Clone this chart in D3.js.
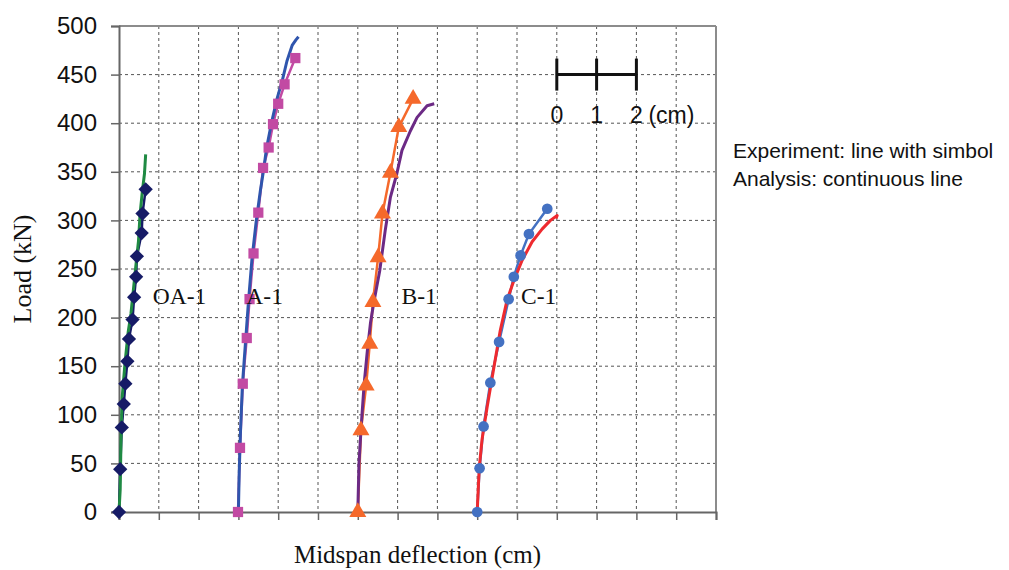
<!DOCTYPE html>
<html>
<head>
<meta charset="utf-8">
<script src="https://cdn.jsdelivr.net/npm/d3@7"></script>
<style>
  body { margin: 0; background: #fff; }
  svg { display: block; }
</style>
</head>
<body>
<svg id="chart" width="1009" height="570"></svg>
<script>
// load ticks (kN) and deflection grid (cm)
var loadTicks = [0, 50, 100, 150, 200, 250, 300, 350, 400, 450, 500];
var deflGrid = d3.range(0, 16);

// experiment series: [deflection cm, load kN]
var expOA1 = [[0,0],[0.03,44],[0.07,87],[0.12,111],[0.16,132],[0.21,155],[0.25,178],[0.34,198],[0.38,221],[0.43,242],[0.45,263],[0.57,287],[0.59,307],[0.67,332]];
var expA1 = [[2.99,0],[3.04,66],[3.11,132],[3.21,179],[3.28,219],[3.38,266],[3.5,308],[3.62,354],[3.76,375],[3.87,399],[4.0,420],[4.16,440],[4.43,467]];
var expB1 = [[6.0,0],[6.08,84],[6.21,130],[6.3,173],[6.38,216],[6.51,262],[6.62,307],[6.82,349],[7.03,396],[7.39,425]];
var expC1 = [[9.0,0],[9.06,45],[9.16,88],[9.33,133],[9.55,175],[9.79,219],[9.92,242],[10.09,264],[10.3,286],[10.76,312]];

// analysis series
var anaOA1 = [[0,0],[0.03,23],[0.05,74],[0.08,118],[0.15,153],[0.23,185],[0.3,204],[0.36,228],[0.42,252],[0.49,279],[0.53,307],[0.59,331],[0.64,348],[0.67,368]];
var anaA1 = [[3.0,0],[3.02,40],[3.05,80],[3.1,130],[3.17,170],[3.25,215],[3.34,260],[3.45,300],[3.55,330],[3.63,351],[3.71,375],[3.84,402],[3.97,425],[4.11,445],[4.22,464],[4.35,480],[4.45,486],[4.51,489]];
var anaB1 = [[6.0,0],[6.03,50],[6.09,91],[6.16,132],[6.24,166],[6.32,195],[6.4,215],[6.55,248],[6.69,290],[6.82,324],[6.98,348],[7.11,372],[7.32,392],[7.49,406],[7.74,418],[7.92,420]];
var anaC1 = [[9.0,0],[9.05,45],[9.12,74],[9.25,108],[9.42,149],[9.58,187],[9.75,218],[9.92,238],[10.13,259],[10.38,278],[10.63,291],[10.84,300],[11.01,305],[10.98,302]];

var curveLabels = [["OA-1", 0.85], ["A-1", 3.2], ["B-1", 7.1], ["C-1", 10.1]];
var scaleBarTicks = [0, 1, 2];

var svg = d3.select('#chart');
var margin = {left: 119, top: 26, right: 1009 - 716, bottom: 570 - 512};
var w = 1009 - margin.left - margin.right;
var h = 570 - margin.top - margin.bottom;

var x = d3.scaleLinear().domain([0, 15]).range([0, w]);
var y = d3.scaleLinear().domain([0, 500]).range([h, 0]);

var g = svg.append('g').attr('transform', 'translate(' + margin.left + ',' + margin.top + ')');

// grid
g.selectAll('.hgrid').data(loadTicks.slice(1, -1)).enter().append('line')
  .attr('x1', 0).attr('x2', w)
  .attr('y1', function(d) { return y(d); }).attr('y2', function(d) { return y(d); })
  .attr('stroke', '#555').attr('stroke-width', 1).attr('stroke-dasharray', '3,3');
g.selectAll('.vgrid').data(deflGrid.slice(1, -1)).enter().append('line')
  .attr('y1', 0).attr('y2', h)
  .attr('x1', function(d) { return x(d); }).attr('x2', function(d) { return x(d); })
  .attr('stroke', '#555').attr('stroke-width', 1).attr('stroke-dasharray', '3,3');

// frame (top + right lighter)
g.append('line').attr('x1', 0).attr('x2', w).attr('y1', 0).attr('y2', 0).attr('stroke', '#8c8c8c').attr('stroke-width', 2);
g.append('line').attr('x1', w).attr('x2', w).attr('y1', 0).attr('y2', h).attr('stroke', '#8c8c8c').attr('stroke-width', 2);

// axes
var yAxis = d3.axisLeft(y).tickValues(loadTicks).tickSize(8).tickPadding(14);
var yg = g.append('g').call(yAxis);
yg.select('.domain').attr('stroke', '#666').attr('stroke-width', 2);
yg.selectAll('.tick line').attr('stroke', '#666').attr('stroke-width', 1.5);
yg.selectAll('.tick text').attr('font-family', 'Liberation Sans, Arial, sans-serif').attr('font-size', 24).attr('fill', '#111');

var xAxis = d3.axisBottom(x).tickValues(deflGrid).tickSize(8).tickFormat('');
var xg = g.append('g').attr('transform', 'translate(0,' + h + ')').call(xAxis);
xg.select('.domain').attr('stroke', '#666').attr('stroke-width', 2);
xg.selectAll('.tick line').attr('stroke', '#666').attr('stroke-width', 1.5);

// lines
var line = d3.line().x(function(d) { return x(d[0]); }).y(function(d) { return y(d[1]); });

var analysis = [[anaOA1, '#1f8a43'], [anaA1, '#2f55ad'], [anaB1, '#6c2a85'], [anaC1, '#ee2a2f']];
var experiment = [[expOA1, '#161b66', 'diamond'], [expA1, '#c24aa3', 'square'], [expB1, '#f5692b', 'triangle'], [expC1, '#4471c2', 'circle']];

// experiment lines drawn under analysis
experiment.forEach(function(s) {
  g.append('path').datum(s[0]).attr('d', line)
    .attr('fill', 'none').attr('stroke', s[1]).attr('stroke-width', 2.5);
});
analysis.forEach(function(s) {
  g.append('path').datum(s[0]).attr('d', line)
    .attr('fill', 'none').attr('stroke', s[1]).attr('stroke-width', 3).attr('stroke-linejoin', 'round');
});

var symbols = {
  diamond: d3.symbol().type(d3.symbolDiamond2).size(130),
  square: d3.symbol().type(d3.symbolSquare).size(105),
  triangle: d3.symbol().type(d3.symbolTriangle).size(125),
  circle: d3.symbol().type(d3.symbolCircle).size(90)
};
experiment.forEach(function(s) {
  g.selectAll(null).data(s[0]).enter().append('path')
    .attr('d', symbols[s[2]])
    .attr('transform', function(d) { return 'translate(' + x(d[0]) + ',' + y(d[1]) + ')'; })
    .attr('fill', s[1]);
});

// curve labels
g.selectAll('.clabel').data(curveLabels).enter().append('text')
  .attr('x', function(d) { return x(d[1]); })
  .attr('y', y(214))
  .attr('font-family', 'Liberation Serif, Times New Roman, serif')
  .attr('font-size', 23.5)
  .attr('fill', '#111')
  .text(function(d) { return d[0]; });

// scale bar
var sb = g.append('g');
sb.append('line').attr('x1', x(11)).attr('x2', x(13)).attr('y1', y(450)).attr('y2', y(450))
  .attr('stroke', '#111').attr('stroke-width', 3);
sb.selectAll('.sbt').data(scaleBarTicks).enter().append('line')
  .attr('x1', function(d) { return x(11 + d); }).attr('x2', function(d) { return x(11 + d); })
  .attr('y1', y(450) - 16).attr('y2', y(450) + 16)
  .attr('stroke', '#111').attr('stroke-width', 3);
sb.selectAll('.sbl').data(scaleBarTicks).enter().append('text')
  .attr('x', function(d) { return x(11 + d); })
  .attr('y', y(450) + 48)
  .attr('text-anchor', 'middle')
  .attr('font-family', 'Liberation Sans, Arial, sans-serif')
  .attr('font-size', 23)
  .attr('fill', '#111')
  .text(function(d) { return d; });
sb.append('text').attr('x', x(13) + 12).attr('y', y(450) + 48)
  .attr('font-family', 'Liberation Sans, Arial, sans-serif')
  .attr('font-size', 23).attr('fill', '#111').text('(cm)');

// axis titles
svg.append('text')
  .attr('transform', 'translate(31,' + (margin.top + h / 2) + ') rotate(-90)')
  .attr('text-anchor', 'middle')
  .attr('font-family', 'Liberation Serif, Times New Roman, serif')
  .attr('font-size', 26).attr('fill', '#111')
  .text('Load (kN)');
svg.append('text')
  .attr('x', margin.left + w / 2).attr('y', 563)
  .attr('text-anchor', 'middle')
  .attr('font-family', 'Liberation Serif, Times New Roman, serif')
  .attr('font-size', 25).attr('fill', '#111')
  .text('Midspan deflection (cm)');

// note
svg.append('text').attr('x', 733).attr('y', 158)
  .attr('font-family', 'Liberation Sans, Arial, sans-serif').attr('font-size', 21).attr('fill', '#111')
  .text('Experiment: line with simbol');
svg.append('text').attr('x', 733).attr('y', 186)
  .attr('font-family', 'Liberation Sans, Arial, sans-serif').attr('font-size', 21).attr('fill', '#111')
  .text('Analysis: continuous line');
</script>
</body>
</html>
